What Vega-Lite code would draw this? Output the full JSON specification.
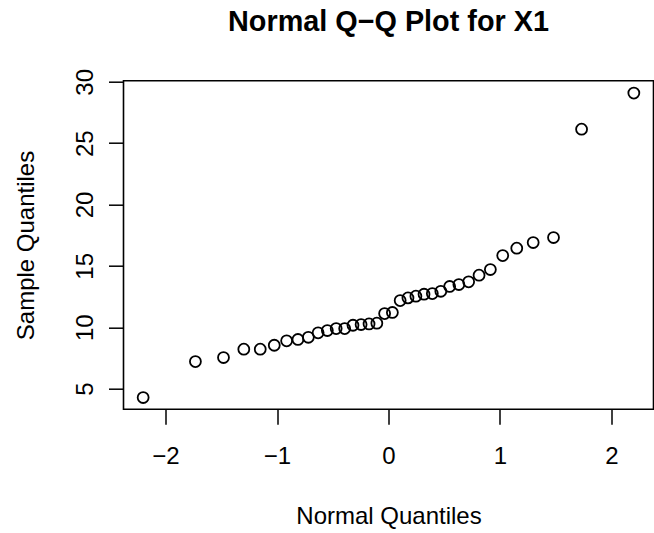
{
  "$schema": "https://vega.github.io/schema/vega-lite/v6.json",
  "width": 530,
  "height": 328.6,
  "autosize": {"type": "none"},
  "padding": {"left": 123.5, "top": 80.7, "right": 0.5, "bottom": 123.7},
  "background": "white",
  "title": {
    "text": "Normal Q−Q Plot for X1",
    "font": "Liberation Sans",
    "fontSize": 28.8,
    "fontWeight": "bold",
    "color": "black",
    "anchor": "middle",
    "baseline": "alphabetic",
    "offset": 9
  },
  "config": {
    "view": {"stroke": "black", "strokeWidth": 1.6},
    "axis": {
      "grid": false,
      "domain": false,
      "tickColor": "black",
      "tickWidth": 1.5,
      "tickSize": 15,
      "labelFont": "Liberation Sans",
      "labelFontSize": 24,
      "labelColor": "black",
      "titleFont": "Liberation Sans",
      "titleFontSize": 24,
      "titleFontWeight": "normal",
      "titleColor": "black"
    }
  },
  "data": {
    "values": [
      {"theoretical": -2.2004, "sample": 4.27},
      {"theoretical": -1.7317, "sample": 7.20},
      {"theoretical": -1.4799, "sample": 7.53},
      {"theoretical": -1.2976, "sample": 8.21},
      {"theoretical": -1.1503, "sample": 8.21},
      {"theoretical": -1.0245, "sample": 8.53},
      {"theoretical": -0.9136, "sample": 8.89},
      {"theoretical": -0.8122, "sample": 9.00},
      {"theoretical": -0.7188, "sample": 9.18},
      {"theoretical": -0.6312, "sample": 9.54},
      {"theoretical": -0.5485, "sample": 9.73},
      {"theoretical": -0.4693, "sample": 9.89},
      {"theoretical": -0.3931, "sample": 9.89},
      {"theoretical": -0.3186, "sample": 10.16},
      {"theoretical": -0.2458, "sample": 10.22},
      {"theoretical": -0.1745, "sample": 10.27},
      {"theoretical": -0.1046, "sample": 10.33},
      {"theoretical": -0.0348, "sample": 11.11},
      {"theoretical": 0.0348, "sample": 11.20},
      {"theoretical": 0.1046, "sample": 12.17},
      {"theoretical": 0.1745, "sample": 12.39},
      {"theoretical": 0.2458, "sample": 12.53},
      {"theoretical": 0.3186, "sample": 12.69},
      {"theoretical": 0.3931, "sample": 12.74},
      {"theoretical": 0.4693, "sample": 12.93},
      {"theoretical": 0.5485, "sample": 13.32},
      {"theoretical": 0.6312, "sample": 13.48},
      {"theoretical": 0.7188, "sample": 13.70},
      {"theoretical": 0.8122, "sample": 14.24},
      {"theoretical": 0.9136, "sample": 14.70},
      {"theoretical": 1.0245, "sample": 15.84},
      {"theoretical": 1.1503, "sample": 16.44},
      {"theoretical": 1.2976, "sample": 16.90},
      {"theoretical": 1.4799, "sample": 17.31},
      {"theoretical": 1.7317, "sample": 26.14},
      {"theoretical": 2.2004, "sample": 29.08}
    ]
  },
  "mark": {
    "type": "point",
    "shape": "circle",
    "filled": false,
    "stroke": "black",
    "strokeWidth": 1.8,
    "size": 120,
    "opacity": 1
  },
  "encoding": {
    "x": {
      "field": "theoretical",
      "type": "quantitative",
      "scale": {"domain": [-2.3767, 2.3767], "nice": false, "zero": false},
      "axis": {
        "title": "Normal Quantiles",
        "values": [-2, -1, 0, 1, 2],
        "labelPadding": 20,
        "labelBaseline": "top",
        "titleY": 113.7,
        "titleBaseline": "alphabetic"
      }
    },
    "y": {
      "field": "sample",
      "type": "quantitative",
      "scale": {"domain": [3.31, 30.09], "nice": false, "zero": false},
      "axis": {
        "title": "Sample Quantiles",
        "values": [5, 10, 15, 20, 25, 30],
        "labelAngle": -90,
        "labelAlign": "center",
        "labelBaseline": "alphabetic",
        "labelPadding": 16.5,
        "titleAngle": -90,
        "titleX": -90.5,
        "titleY": 164.3,
        "titleAlign": "center",
        "titleBaseline": "alphabetic"
      }
    }
  }
}
